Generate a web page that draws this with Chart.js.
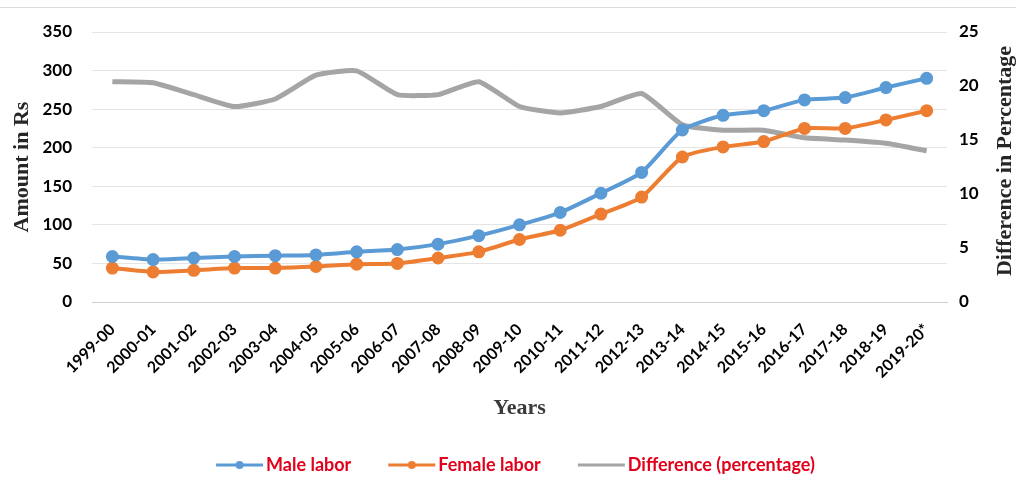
<!DOCTYPE html>
<html>
<head>
<meta charset="utf-8">
<script src="https://cdn.jsdelivr.net/npm/chart.js@4"></script>
<style>
    html, body { margin: 0; padding: 0; background: #fff; }
    #wrap { position: relative; width: 1016px; height: 479px; }
    #topline { position: absolute; left: 0; top: 7px; width: 1016px; height: 1px; background: #dcdcdc; }
    #box { position: absolute; left: 0; top: 0; width: 1016px; height: 479px; }
</style>
</head>
<body>
<div id="wrap">
    <div id="topline"></div>
    <div id="box"><canvas id="labor-chart"></canvas></div>
</div>
<script>
const years = ['1999-00', '2000-01', '2001-02', '2002-03', '2003-04', '2004-05', '2005-06',
    '2006-07', '2007-08', '2008-09', '2009-10', '2010-11', '2011-12', '2012-13', '2013-14',
    '2014-15', '2015-16', '2016-17', '2017-18', '2018-19', '2019-20*'];
const maleLabor = [59, 55, 57, 59, 60, 61, 65, 68, 75, 86, 100, 116, 141, 168, 223, 242, 248, 262, 265, 278, 290];
const femaleLabor = [44, 39, 41, 44, 44, 46, 49, 50, 57, 65, 81, 93, 114, 136, 188, 201, 208, 225, 225, 236, 248];
const diffPct = [20.4, 20.3, 19.2, 18.1, 18.8, 21.0, 21.4, 19.2, 19.2, 20.4, 18.1, 17.5, 18.1, 19.3, 16.4, 15.9, 15.9, 15.2, 15.0, 14.7, 14.0];

const BLUE = '#5b9bd5', ORANGE = '#ed7d31', GRAY = '#a5a5a5';

// legend symbols: line with a marker. The canvas is wider than the legend box
// (centred on it), so the line can sit right against the label text and the
// transparent left part acts as the gap between items.
function legendIcon(color, withDot) {
    const c = document.createElement('canvas');
    c.width = 100; c.height = 12;
    const g = c.getContext('2d');
    g.strokeStyle = color;
    g.lineWidth = 3;
    g.beginPath(); g.moveTo(45, 6); g.lineTo(92, 6); g.stroke();
    if (withDot) {
        g.fillStyle = color;
        g.beginPath(); g.arc(68.5, 6, 4, 0, Math.PI * 2); g.fill();
    }
    return c;
}
const icons = [legendIcon(BLUE, true), legendIcon(ORANGE, true), legendIcon(GRAY, false)];

// right axis title reads bottom-to-top, so draw it ourselves
const rightTitle = {
    id: 'rightTitle',
    afterDraw(chart) {
        const s = chart.scales.y1;
        const ctx = chart.ctx;
        ctx.save();
        ctx.translate(chart.width - 11, (s.top + s.bottom) / 2 - 6);
        ctx.rotate(-Math.PI / 2);
        ctx.font = 'bold 22px "Liberation Serif"';
        ctx.fillStyle = '#262626';
        ctx.textAlign = 'center';
        ctx.textBaseline = 'middle';
        ctx.fillText('Difference in Percentage', 0, 0);
        ctx.restore();
    }
};

new Chart(document.getElementById('labor-chart'), {
    type: 'line',
    data: {
        labels: years,
        datasets: [
            {
                label: 'Male labor',
                data: maleLabor,
                borderColor: BLUE,
                backgroundColor: BLUE,
                pointBackgroundColor: BLUE,
                pointBorderColor: BLUE,
                borderWidth: 4,
                pointRadius: 4.5,
                tension: 0.2,
                yAxisID: 'y'
            },
            {
                label: 'Female labor',
                data: femaleLabor,
                borderColor: ORANGE,
                backgroundColor: ORANGE,
                pointBackgroundColor: ORANGE,
                pointBorderColor: ORANGE,
                borderWidth: 4,
                pointRadius: 4.5,
                tension: 0.2,
                yAxisID: 'y'
            },
            {
                label: 'Difference (percentage)',
                data: diffPct,
                borderColor: GRAY,
                backgroundColor: GRAY,
                borderWidth: 5,
                pointRadius: 0,
                tension: 0.15,
                yAxisID: 'y1'
            }
        ]
    },
    options: {
        responsive: true,
        maintainAspectRatio: false,
        animation: false,
        // right padding + narrower right axis keeps the plot in place but re-centres the legend
        layout: { padding: { top: 32, bottom: -5, left: 0, right: 16 } },
        plugins: {
            tooltip: { enabled: false },
            legend: {
                position: 'bottom',
                labels: {
                    usePointStyle: true,
                    pointStyleWidth: 72,
                    padding: 6,
                    color: '#e3001b',
                    font: { family: 'Lato', weight: 'bold', size: 18 },
                    generateLabels(chart) {
                        const items = Chart.defaults.plugins.legend.labels.generateLabels(chart);
                        items.forEach((it, i) => {
                            it.pointStyle = icons[i];
                            it.fontColor = '#e3001b';
                        });
                        return items;
                    }
                }
            }
        },
        scales: {
            x: {
                offset: true,
                afterFit(scale) { scale.height = 148; },
                grid: { display: false, drawTicks: false, offset: false },
                border: { color: '#d0d0d0' },
                ticks: {
                    color: '#000',
                    font: { family: 'Lato', weight: 'bold', size: 16 },
                    minRotation: 45,
                    maxRotation: 45,
                    autoSkip: false,
                    padding: 18
                },
                title: {
                    display: true,
                    text: 'Years',
                    color: '#3a3a3a',
                    font: { family: 'Liberation Serif', weight: 'bold', size: 22 },
                    padding: { top: 0, bottom: 28 }
                }
            },
            y: {
                position: 'left',
                min: 0,
                max: 350,
                afterFit(scale) { scale.width = 92; },
                grid: { color: '#e4e4e4', drawTicks: false },
                border: { display: false },
                ticks: {
                    stepSize: 50,
                    color: '#000',
                    padding: 20,
                    font: { family: 'Lato', weight: 'bold', size: 17 }
                },
                title: {
                    display: true,
                    text: 'Amount in Rs',
                    color: '#262626',
                    font: { family: 'Liberation Serif', weight: 'bold', size: 22 },
                    padding: { top: 9, bottom: 0 }
                }
            },
            y1: {
                position: 'right',
                min: 0,
                max: 25,
                afterFit(scale) { scale.width = 53; },
                grid: { display: false, drawTicks: false },
                border: { display: false },
                ticks: {
                    stepSize: 5,
                    color: '#000',
                    padding: 12,
                    font: { family: 'Lato', weight: 'bold', size: 17 }
                }
            }
        }
    },
    plugins: [rightTitle]
});
</script>
</body>
</html>
